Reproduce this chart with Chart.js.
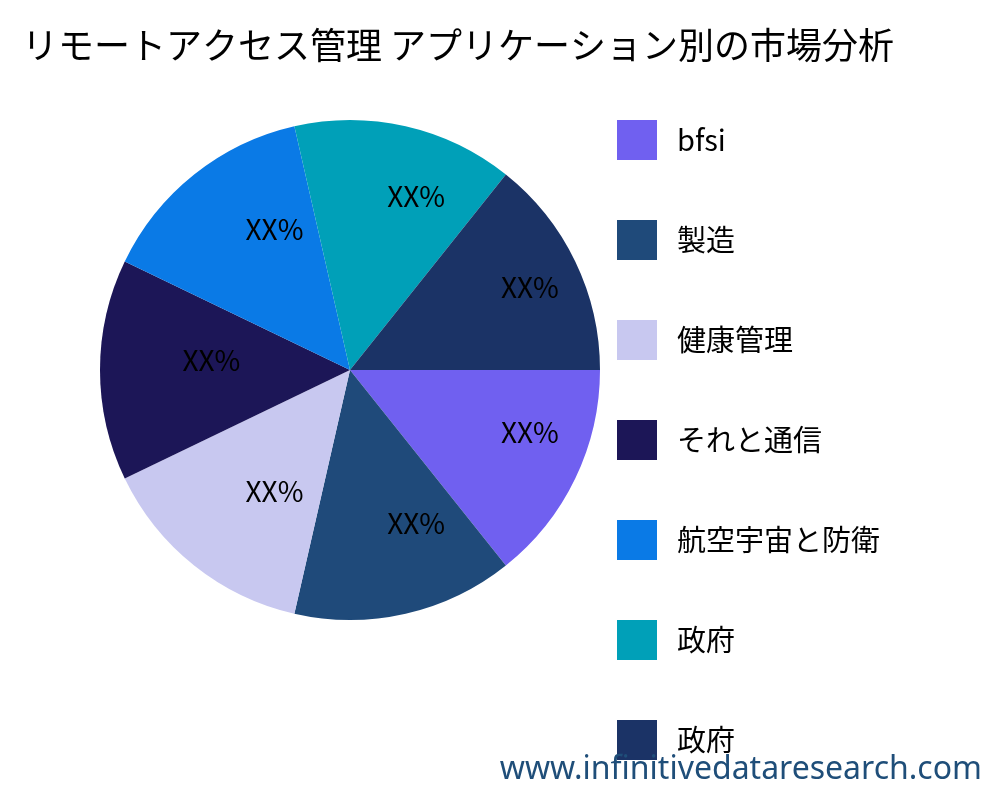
<!DOCTYPE html>
<html>
<head>
<meta charset="utf-8">
<script src="https://cdn.jsdelivr.net/npm/chart.js@4"></script>
<style>
  body { margin: 0; background: #fff; }
  #wrap { position: relative; width: 1000px; height: 800px; }
  #mark { position: absolute; right: 18px; bottom: 12px; font: 32px "Noto Sans", sans-serif; color: #1f4e79; }
</style>
</head>
<body>
<div id="wrap">
  <canvas id="myChart" width="1000" height="800"></canvas>
  <div id="mark">www.infinitivedataresearch.com</div>
</div>
<script>
const title = "リモートアクセス管理 アプリケーション別の市場分析";
const labels = ["bfsi", "製造", "健康管理", "それと通信", "航空宇宙と防衛", "政府", "政府"];
const values = [1, 1, 1, 1, 1, 1, 1];
const sliceLabels = ["XX%", "XX%", "XX%", "XX%", "XX%", "XX%", "XX%"];
const colors = ["#7060f0", "#1f4a7a", "#c8c8f0", "#1c1657", "#0a7ae6", "#00a0b8", "#1b3366"];

const font = '"Noto Sans CJK JP", "Noto Sans", sans-serif';

// title, slice text and legend drawn by hand
const extras = {
  id: "extras",
  afterDatasetsDraw(chart) {
    const ctx = chart.ctx;
    const meta = chart.getDatasetMeta(0);
    ctx.save();
    ctx.fillStyle = "#000";
    ctx.textBaseline = "middle";

    ctx.font = "36px " + font;
    ctx.textAlign = "left";
    ctx.fillText(title, 22, 45);

    // labels start at a point inside the slice, text runs to the right
    ctx.font = "28px " + font;
    meta.data.forEach((arc, i) => {
      const p = arc.getProps(["x", "y", "startAngle", "endAngle", "outerRadius"], true);
      const a = (p.startAngle + p.endAngle) / 2;
      const r = p.outerRadius * 0.67;
      ctx.fillText(sliceLabels[i], p.x + Math.cos(a) * r, p.y + Math.sin(a) * r - 10);
    });

    ctx.font = "29px " + font;
    labels.forEach((lab, i) => {
      const y = 120 + i * 100;
      ctx.fillStyle = colors[i];
      ctx.fillRect(617, y, 40, 40);
      ctx.fillStyle = "#000";
      ctx.fillText(lab, 677, y + 20);
    });
    ctx.restore();
  }
};

new Chart(document.getElementById("myChart").getContext("2d"), {
  type: "pie",
  data: {
    labels: labels,
    datasets: [{ data: values, backgroundColor: colors, borderWidth: 0 }]
  },
  options: {
    responsive: false,
    animation: false,
    rotation: 90,
    layout: { padding: { left: 100, right: 400, top: 120, bottom: 180 } },
    plugins: {
      legend: { display: false },
      tooltip: { enabled: false }
    }
  },
  plugins: [extras]
});
</script>
</body>
</html>
